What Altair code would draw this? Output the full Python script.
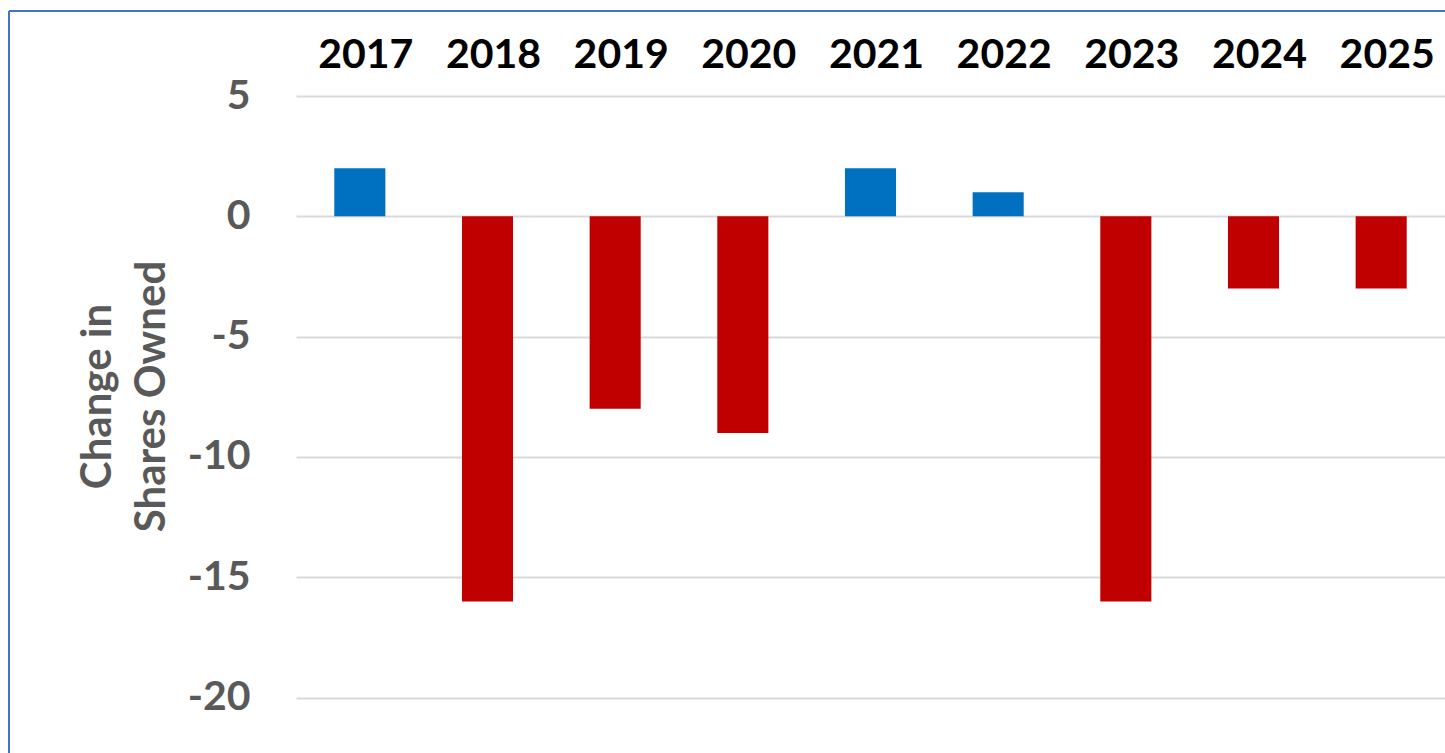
import altair as alt
import pandas as pd

years = ["2017", "2018", "2019", "2020", "2021", "2022", "2023", "2024", "2025"]
changes = [2, -16, -8, -9, 2, 1, -16, -3, -3]
y_ticks = [5, 0, -5, -10, -15, -20]
y_title = ["Change in", "Shares Owned"]

df = pd.DataFrame({"year": years, "change": changes})

W, H = 1149, 657
PAD_L, PAD_T = 296, 96
FONT = "Lato"

bars = alt.Chart(df).mark_bar().encode(
    x=alt.X(
        "year:N",
        sort=years,
        scale=alt.Scale(paddingInner=0.6, paddingOuter=0.3),
        axis=alt.Axis(
            orient="top", title=None, labelAngle=0, labelFont=FONT,
            labelFontSize=41, labelFontWeight="bold", labelColor="#000000",
            labelPadding=20, labelOffset=6, ticks=False, domain=False, grid=False,
        ),
    ),
    y=alt.Y(
        "change:Q",
        scale=alt.Scale(domain=[-22.3, 5], nice=False, zero=False),
        axis=alt.Axis(
            values=y_ticks, title=y_title, labelFont=FONT, labelFontSize=41,
            labelExpr="toString(datum.value)",
            labelFontWeight="bold", labelColor="#595959", labelPadding=46,
            ticks=False, domain=False, grid=True, gridColor="#d9d9d9",
            gridWidth=2, titleFont=FONT, titleFontSize=42,
            titleFontWeight="bold", titleColor="#595959", titleAngle=270,
            titleX=-219, titleY=300, titleAlign="center", titleBaseline="top",
            titleLineHeight=54,
        ),
    ),
    color=alt.condition("datum.change > 0", alt.value("#0070C0"), alt.value("#C00000")),
)

frame_df = pd.DataFrame({"k": [0]})
left_border = alt.Chart(frame_df).mark_rule(color="#4472C4", strokeWidth=2).encode(
    x=alt.value(9 - PAD_L), y=alt.value(11 - PAD_T), y2=alt.value(H + 10)
)
top_border = alt.Chart(frame_df).mark_rule(color="#4472C4", strokeWidth=2).encode(
    x=alt.value(9 - PAD_L), x2=alt.value(W + 10), y=alt.value(11 - PAD_T)
)

chart = alt.layer(bars, left_border, top_border).properties(
    width=W, height=H,
    padding={"left": PAD_L, "top": PAD_T, "right": 0, "bottom": 0},
    autosize=alt.AutoSizeParams(type="none"),
    background="white",
).configure_view(stroke="#ffffff", strokeWidth=0, strokeOpacity=0)

chart.save("out.html", embed_options={"renderer": "svg", "actions": False})
